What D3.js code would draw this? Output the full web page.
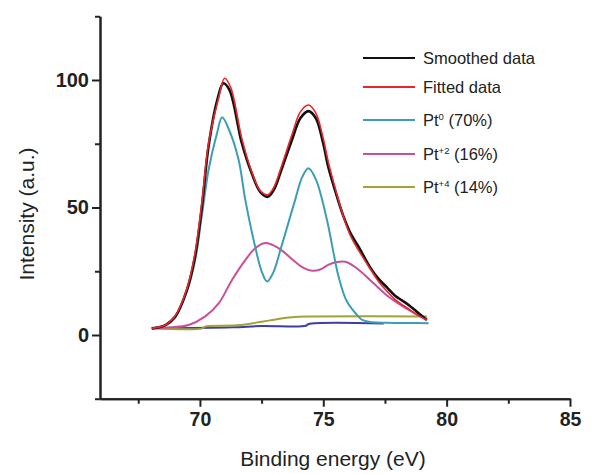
<!DOCTYPE html>
<html>
<head>
<meta charset="utf-8">
<script src="https://cdn.jsdelivr.net/npm/d3@7"></script>
<style>
  html, body { margin: 0; padding: 0; background: #ffffff; }
  svg { display: block; font-family: "Liberation Sans", Arial, sans-serif; }
</style>
</head>
<body>
<svg id="chart" width="592" height="474"></svg>
<script>
// ---- Data ----
const smoothedX = [68.05, 68.6, 69.0, 69.47, 69.8, 70.08, 70.35, 70.7, 70.95, 71.2, 71.7, 72.1, 72.45, 72.75, 73.0, 73.3, 73.73, 74.07, 74.4, 74.7, 75.0, 75.2, 75.5, 75.8, 76.1, 76.43, 76.9, 77.24, 77.6, 77.9, 78.46, 78.9, 79.2];
const smoothedY = [2.6, 3.9, 7.2, 17.6, 30.7, 50.3, 74, 92, 98.7, 96, 75.2, 63.4, 56, 54.2, 57, 64.7, 76.5, 85, 87.8, 85, 75, 66, 56, 47, 40, 34.6, 26.5, 22, 18.5, 15.5, 11.8, 8.2, 5.9];

const fittedX = [68.05, 68.6, 69.0, 69.47, 69.8, 70.08, 70.35, 70.76, 71.0, 71.25, 71.7, 72.1, 72.45, 72.75, 73.0, 73.3, 73.73, 74.07, 74.4, 74.7, 75.0, 75.2, 75.5, 75.8, 76.1, 76.57, 76.9, 77.24, 77.6, 77.9, 78.46, 78.9, 79.2];
const fittedY = [2.6, 3.9, 7.5, 18, 32, 52, 75.2, 93, 100.7, 97, 77, 64, 56.5, 55, 58, 66, 78.5, 87.5, 90.2, 87, 77, 68, 57, 47, 39, 31, 26, 21, 17, 14, 10.2, 7.4, 5.9];

const pt0X = [68.05, 68.6, 69.0, 69.47, 69.8, 70.08, 70.35, 70.69, 70.9, 71.2, 71.57, 71.84, 72.24, 72.5, 72.72, 72.95, 73.3, 73.86, 74.15, 74.4, 74.7, 75.15, 75.42, 75.62, 75.96, 76.43, 76.6, 77.0, 77.5, 78.5, 79.27];
const pt0Y = [2.6, 3.8, 7, 17, 29, 47, 64.7, 79, 85.4, 80, 68.6, 53, 34.6, 25, 21, 24, 34.6, 53, 62, 65.4, 61, 45.1, 32, 22.9, 13.1, 7.2, 5.8, 5, 4.8, 4.7, 4.6];

const pt2X = [68.05, 68.8, 69.54, 70.2, 70.76, 71.3, 71.84, 72.24, 72.6, 72.9, 73.3, 73.86, 74.2, 74.55, 74.9, 75.2, 75.5, 75.9, 76.37, 76.97, 77.65, 78.46, 78.9, 79.2];
const pt2Y = [2.6, 3.0, 3.9, 7.2, 12.4, 21.6, 29.4, 34, 36, 35.5, 33.3, 28.7, 26.3, 25.2, 25.8, 27.5, 28.5, 28.7, 26.1, 20.9, 15, 9.8, 7.5, 5.9];

const pt4X = [68.05, 70.1, 70.2, 71.5, 72.5, 73.0, 73.5, 74.0, 74.5, 79.2];
const pt4Y = [2.6, 2.6, 3.3, 3.8, 5.2, 6.0, 6.8, 7.2, 7.3, 7.3];

const baseX = [68.05, 71.3, 72.5, 74.3, 74.4, 77.45];
const baseY = [2.6, 3.0, 3.5, 3.6, 4.3, 4.5];

const xMajorTicks = [70, 75, 80, 85];
const xMinorTicks = [67.5, 72.5, 77.5, 82.5];
const yMajorTicks = [0, 50, 100];
const yMinorTicks = [-25, 25, 75, 125];

const legendLabels = [
  { base: "Smoothed data", sup: "", rest: "" },
  { base: "Fitted data", sup: "", rest: "" },
  { base: "Pt", sup: "0", rest: " (70%)" },
  { base: "Pt", sup: "+2", rest: " (16%)" },
  { base: "Pt", sup: "+4", rest: " (14%)" }
];

// ---- Styles ----
const colors = {
  smoothed: "#111111",
  fitted: "#e8262c",
  pt0: "#3d9db4",
  pt2: "#c8509a",
  pt4: "#a3a236",
  base: "#3b3fa6"
};
const legendColors = [colors.smoothed, colors.fitted, colors.pt0, colors.pt2, colors.pt4];

const svg = d3.select("#chart");
const x = d3.scaleLinear().domain([65.95, 85]).range([100, 570]);
const y = d3.scaleLinear().domain([-25, 125]).range([398.75, 16.25]);

const textColor = "#222";

// ---- Axes ----
const yAxisMajor = d3.axisLeft(y).tickValues(yMajorTicks).tickSize(8).tickSizeOuter(0).tickPadding(3).tickFormat(d3.format("d"));
const yAxisMinor = d3.axisLeft(y).tickValues(yMinorTicks).tickSize(5).tickSizeOuter(0).tickFormat("");
const xAxisMajor = d3.axisBottom(x).tickValues(xMajorTicks).tickSize(8).tickSizeOuter(0).tickPadding(5).tickFormat(d3.format("d"));
const xAxisMinor = d3.axisBottom(x).tickValues(xMinorTicks).tickSize(5).tickSizeOuter(0).tickFormat("");

function styleAxis(g, fs) {
  g.selectAll("path.domain").attr("stroke", "#222").attr("stroke-width", 2);
  g.selectAll("line").attr("stroke", "#222").attr("stroke-width", 2);
  g.selectAll("text").attr("fill", textColor).attr("font-size", fs).attr("font-weight", "bold")
    .attr("font-family", "'Liberation Sans', Arial, sans-serif");
}

const gy = svg.append("g").attr("transform", "translate(100,0)").call(yAxisMajor);
styleAxis(gy, 20);
const gy2 = svg.append("g").attr("transform", "translate(100,0)").call(yAxisMinor);
styleAxis(gy2, 20);
const gx = svg.append("g").attr("transform", "translate(0,398.75)").call(xAxisMajor);
styleAxis(gx, 19.5);
const gx2 = svg.append("g").attr("transform", "translate(0,398.75)").call(xAxisMinor);
styleAxis(gx2, 19.5);

// axis titles
svg.append("text")
  .attr("x", 333).attr("y", 466)
  .attr("text-anchor", "middle")
  .attr("font-size", 21).attr("fill", textColor)
  .text("Binding energy (eV)");
svg.append("text")
  .attr("transform", "translate(34,214) rotate(-90)")
  .attr("text-anchor", "middle")
  .attr("font-size", 21).attr("fill", textColor)
  .text("Intensity (a.u.)");

// ---- Lines ----
const line = d3.line().x(d => x(d[0])).y(d => y(d[1])).curve(d3.curveCatmullRom.alpha(0.5));
const zip = (xs, ys) => xs.map((v, i) => [v, ys[i]]);

const series = [
  { xs: baseX, ys: baseY, c: colors.base, w: 2 },
  { xs: pt4X, ys: pt4Y, c: colors.pt4, w: 2 },
  { xs: pt2X, ys: pt2Y, c: colors.pt2, w: 2 },
  { xs: pt0X, ys: pt0Y, c: colors.pt0, w: 2 },
  { xs: smoothedX, ys: smoothedY, c: colors.smoothed, w: 2.6 },
  { xs: fittedX, ys: fittedY, c: colors.fitted, w: 1.6 }
];
series.forEach(s => {
  svg.append("path")
    .datum(zip(s.xs, s.ys))
    .attr("fill", "none")
    .attr("stroke", s.c)
    .attr("stroke-width", s.w)
    .attr("stroke-linejoin", "round")
    .attr("d", line);
});

// ---- Legend ----
const legendY = [58, 87, 120, 154, 187];
const lg = svg.append("g");
legendLabels.forEach((lab, i) => {
  lg.append("line")
    .attr("x1", 363).attr("x2", 415)
    .attr("y1", legendY[i]).attr("y2", legendY[i])
    .attr("stroke", legendColors[i]).attr("stroke-width", 2.2);
  const t = lg.append("text")
    .attr("x", 423).attr("y", legendY[i] + 6)
    .attr("font-size", 16.5).attr("fill", textColor);
  t.append("tspan").text(lab.base);
  if (lab.sup) {
    t.append("tspan").attr("font-size", 9.5).attr("dy", -6.5).text(lab.sup);
    t.append("tspan").attr("dy", 6.5).attr("font-size", 16.5).text(lab.rest);
  }
});
</script>
</body>
</html>
